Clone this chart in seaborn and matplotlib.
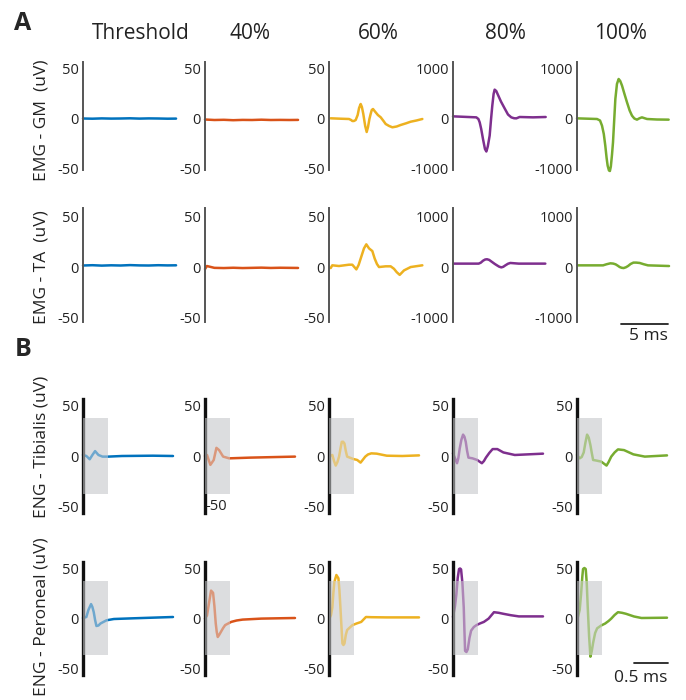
import matplotlib
matplotlib.use("Agg")
import matplotlib.pyplot as plt
import seaborn as sns
from matplotlib.patches import Rectangle

# -----------------------------------
# DATA
# -----------------------------------

columns = ["Threshold", "40%", "60%", "80%", "100%"]
colors = ["#0072BD", "#D95319", "#EDB120", "#7E2F8E", "#77AC30"]

row_labels = ["EMG - GM  (uV)", "EMG - TA  (uV)",
              "ENG - Tibialis (uV)", "ENG - Peroneal (uV)"]

# EMG - GM, time in ms, amplitude in uV
gm_t = [
    [0, 1, 2, 3, 4, 5, 6, 7, 8, 9, 9.9],
    [0, 1, 2, 3, 4, 5, 6, 7, 8, 9, 9.9],
    [0.18, 1.2, 2.13, 2.35, 2.48, 2.65, 2.84, 3.05, 3.2, 3.37, 3.5, 3.65,
     3.85, 4.01, 4.15, 4.3, 4.43, 4.55, 4.68, 4.96, 5.2, 5.5, 5.8, 6.03,
     6.4, 6.74, 7.2, 7.62, 8.2, 8.69, 9.3, 9.93],
    [0, 2.48, 2.7, 2.84, 3.0, 3.19, 3.4, 3.55, 3.7, 3.9, 4.05, 4.18, 4.32,
     4.43, 4.6, 4.79, 5.1, 5.5, 5.85, 6.2, 6.5, 6.74, 7.09, 8.51, 9.86],
    [0, 2.13, 2.45, 2.66, 2.85, 3.01, 3.15, 3.26, 3.4, 3.5, 3.6, 3.72, 3.83,
     3.95, 4.08, 4.25, 4.43, 4.6, 4.79, 5.05, 5.32, 5.6, 5.85, 6.1, 6.38,
     6.65, 6.91, 7.2, 7.45, 8.5, 9.75],
]
gm_v = [
    [0.5, 0.3, 0.6, 0.4, 0.5, 0.7, 0.4, 0.6, 0.5, 0.3, 0.4],
    [-0.5, -1, -0.8, -1.2, -0.9, -1, -0.7, -1, -0.9, -1, -0.9],
    [0.7, 0.3, 0, -1, -2, -2, -1, 4, 11, 15, 12, 5, -7, -13, -8, 0, 5, 9,
     10, 6.7, 4, 1.7, -2, -5, -7, -8.3, -7.5, -6, -4.3, -2.7, -1.5, 0],
    [53, 33, 0, -67, -200, -400, -600, -650, -550, -333, 0, 267, 500, 587,
     560, 480, 350, 210, 90, 33, 15, 13, 40, 33, 40],
    [13, 0, -30, -133, -300, -533, -780, -933, -1030, -1040, -950, -720,
     -467, -50, 400, 700, 800, 760, 667, 500, 333, 170, 67, 10, -13, 15,
     33, 15, 0, -10, -13],
]

# EMG - TA
ta_t = [
    [0, 1, 2, 3, 4, 5, 6, 7, 8, 9, 9.9],
    [0, 0.2, 1, 2, 3, 4, 5, 6, 7, 8, 9, 9.9],
    [0.18, 0.35, 1.06, 2.13, 2.48, 2.91, 3.15, 3.37, 3.72, 3.97, 4.26,
     4.61, 4.86, 5.1, 5.32, 6.03, 6.56, 6.91, 7.2, 7.52, 7.98, 8.69, 9.93],
    [0.07, 2.73, 2.95, 3.2, 3.42, 3.62, 3.85, 4.15, 4.45, 4.68, 4.9, 5.14,
     5.35, 5.57, 5.85, 6.1, 6.99, 9.82],
    [0.1, 2.77, 3.15, 3.55, 3.85, 4.11, 4.35, 4.54, 4.75, 4.96, 5.2, 5.43,
     5.7, 6.0, 6.3, 6.67, 7.1, 7.55, 8.62, 9.79],
]
ta_v = [
    [1.5, 1.8, 1.4, 1.7, 1.5, 1.9, 1.6, 1.5, 1.8, 1.6, 1.7],
    [-2, 1, -0.8, -1, -0.7, -1, -0.8, -0.6, -0.9, -0.7, -0.8, -0.9],
    [-1, 1.7, 1, 2.3, 2.3, -2.3, 2, 8.3, 18.3, 22.3, 18.3, 15.7, 8.3, 3,
     0, 0.7, 0.7, -1.7, -5, -7.7, -3.3, 0, 1.7],
    [67, 67, 85, 125, 148, 153, 140, 100, 60, 33, 8, -7, 5, 33, 65, 80, 67,
     67],
    [33, 33, 55, 73, 68, 53, 25, 0, -15, -20, -5, 20, 60, 87, 87, 80, 55,
     33, 27, 20],
]

# ENG - Tibialis
tib_t = [
    [0, 0.05, 0.10, 0.14, 0.18, 0.23, 0.29, 0.38, 0.58, 1.04, 1.34],
    [0, 0.03, 0.08, 0.13, 0.17, 0.21, 0.27, 0.36, 0.67, 1.34],
    [0.01, 0.05, 0.075, 0.10, 0.125, 0.15, 0.17, 0.19, 0.21, 0.23, 0.25,
     0.27, 0.36, 0.42, 0.47, 0.50, 0.54, 0.58, 0.63, 0.71, 0.86, 1.09, 1.34],
    [0, 0.06, 0.08, 0.10, 0.125, 0.15, 0.17, 0.19, 0.21, 0.23, 0.29, 0.36,
     0.43, 0.46, 0.49, 0.54, 0.59, 0.66, 0.75, 0.92, 1.34],
    [0, 0.04, 0.07, 0.10, 0.125, 0.15, 0.175, 0.20, 0.22, 0.24, 0.29, 0.36,
     0.44, 0.47, 0.51, 0.56, 0.61, 0.70, 0.84, 1.01, 1.34],
]
tib_v = [
    [1, 0, -3.2, 1, 4.8, 1, -0.6, -0.6, 0, 0.3, 0],
    [0, 1, -8.7, -3.9, 8, 5.8, -0.6, -2.3, -1.6, -0.6],
    [0, 1, -5, -9.4, -6, -0.6, 7, 13.9, 14, 12.3, 5, -0.6, -2.9, -3.9,
     -6.5, -4, -0.6, 1.5, 2.6, 2.3, 0.3, 0, 0.6],
    [2.6, -7.1, -2, 7.4, 16, 21, 19, 13.9, 5, -1.6, -2.3, -3.9, -7.1, -5,
     -1.6, 3, 6.8, 6.8, 3.5, 1, 2.3],
    [1, -2.3, -1, 3.5, 13, 21, 18, 10.6, 3, -3.9, -4.5, -5.5, -9.4, -6,
     -0.6, 3.5, 6.5, 5.8, 1.6, -0.6, 0.6],
]

# ENG - Peroneal
per_t = [
    [0, 0.05, 0.08, 0.12, 0.14, 0.16, 0.18, 0.2, 0.23, 0.26, 0.35, 0.46,
     0.75, 1.34],
    [0, 0.03, 0.06, 0.09, 0.12, 0.14, 0.16, 0.175, 0.19, 0.21, 0.24, 0.27,
     0.30, 0.39, 0.47, 0.56, 0.84, 1.34],
    [0.01, 0.03, 0.05, 0.065, 0.08, 0.11, 0.14, 0.155, 0.17, 0.185, 0.2,
     0.215, 0.23, 0.25, 0.27, 0.31, 0.35, 0.41, 0.48, 0.55, 0.63, 0.86,
     1.34],
    [0, 0.03, 0.05, 0.07, 0.09, 0.105, 0.12, 0.14, 0.16, 0.17, 0.18, 0.2,
     0.22, 0.245, 0.27, 0.31, 0.35, 0.40, 0.46, 0.53, 0.61, 0.68, 0.75,
     0.86, 0.98, 1.34],
    [0.01, 0.04, 0.06, 0.08, 0.09, 0.11, 0.13, 0.145, 0.16, 0.18, 0.20,
     0.22, 0.24, 0.27, 0.30, 0.36, 0.42, 0.47, 0.51, 0.56, 0.61, 0.67, 0.73,
     0.85, 0.96, 1.34],
]
per_v = [
    [0, 1, 8, 13.9, 11, 5.8, -2, -8, -7.5, -5.5, -2.3, -1, -0.3, 1],
    [-0.6, 2.6, 15, 27.4, 25.2, 12, -5.5, -14, -19, -17, -13.5, -10, -7.1,
     -3.9, -2.5, -1.6, -0.6, 0],
    [0, 3, 10.6, 25, 36, 43, 39.7, 28, 10.6, -8, -25.5, -27, -25.5, -17,
     -12, -9.5, -7.1, -5.5, -3.9, 1, 0.8, 0.6, 0.6],
    [1, 12, 23.5, 40, 49, 49.5, 48.7, 35, 10.6, -12, -32.9, -34, -31.3,
     -20, -12.6, -9, -7.1, -5.5, -3.9, -0.6, 5.8, 5.2, 4.2, 2.8, 1.6, 1.6],
    [0, 8, 23.5, 42, 49, 50, 49, 35, 10.6, -18, -38.7, -33, -24.8, -15,
     -10.3, -7.5, -5.5, -3, -0.6, 3, 5.8, 5.2, 4.2, 1.5, 0, 0.3],
]

# stimulation artefact window (ms) and its height (uV)
artefact_end = 0.37
artefact_half = 37


W, H = 686, 700
col_left = [83, 205, 329, 453, 577]


def add_axes_px(fig, left, top, width, bottom):
    return fig.add_axes([left / W, 1 - bottom / H, width / W,
                         (bottom - top) / H])


def style_axis(ax, ticks, spine_color, spine_width):
    for s in ["top", "right", "bottom"]:
        ax.spines[s].set_visible(False)
    ax.spines["left"].set_color(spine_color)
    ax.spines["left"].set_linewidth(spine_width)
    ax.set_xticks([])
    ax.set_yticks(ticks)
    ax.set_yticklabels([str(t) for t in ticks])
    ax.tick_params(axis="y", length=0, pad=3, labelsize=10.5,
                   labelcolor="#222222")
    ax.set_xlabel("")
    ax.set_ylabel("")
    ax.patch.set_alpha(0)


def draw_trace(ax, t, v, color):
    sns.lineplot(x=t, y=v, ax=ax, color=color, linewidth=1.8,
                 estimator=None, sort=False)
    for ln in ax.lines:
        ln.set_clip_on(False)
        ln.set_solid_joinstyle("round")
        ln.set_solid_capstyle("round")
        ln.set_zorder(2)


def main():

    sns.set_theme(style="white")
    plt.rcParams["font.family"] = ["Open Sans", "DejaVu Sans"]
    plt.rcParams["axes.unicode_minus"] = False

    fig = plt.figure(figsize=(W / 100, H / 100), dpi=100)

    # ---------------- PANEL A : EMG ----------------

    emg_rows = [(gm_t, gm_v, 62, 170, (-51, 57)),
                (ta_t, ta_v, 208, 322, (-54, 58))]

    emg_axes = []
    for t_list, v_list, top, bottom, lim in emg_rows:
        row_axes = []
        for c in range(5):
            ax = add_axes_px(fig, col_left[c], top, 94, bottom)
            scale = 20 if c >= 3 else 1
            draw_trace(ax, t_list[c], v_list[c], colors[c])
            ax.set_xlim(0, 10)
            ax.set_ylim(lim[0] * scale, lim[1] * scale)
            style_axis(ax, [-50 * scale, 0, 50 * scale] if scale == 1
                       else [-1000, 0, 1000], "#555555", 1.4)
            row_axes.append(ax)
        emg_axes.append(row_axes)

    # ---------------- PANEL B : ENG ----------------

    eng_rows = [(tib_t, tib_v, 399, 513, (-56, 56)),
                (per_t, per_v, 562, 675, (-57, 56))]

    eng_axes = []
    for t_list, v_list, top, bottom, lim in eng_rows:
        row_axes = []
        for c in range(5):
            ax = add_axes_px(fig, col_left[c], top, 90, bottom)
            ax.add_patch(Rectangle((0, -artefact_half), artefact_end,
                                   2 * artefact_half, facecolor="#dcdddf",
                                   edgecolor="none", zorder=0))
            draw_trace(ax, t_list[c], v_list[c], colors[c])
            # fade the trace inside the artefact window
            ax.add_patch(Rectangle((0, -artefact_half), artefact_end,
                                   2 * artefact_half, facecolor="#dcdddf",
                                   edgecolor="none", alpha=0.5, zorder=3))
            ax.set_xlim(0, 1.34)
            ax.set_ylim(*lim)
            style_axis(ax, [-50, 0, 50], "#111111", 2.4)
            row_axes.append(ax)
        eng_axes.append(row_axes)

    # odd -50 label drawn right of the axis in the Tibialis 40% panel
    ax = eng_axes[0][1]
    ax.set_yticks([0, 50])
    ax.set_yticklabels(["0", "50"])
    ax.text(0.01, -50, "-50", fontsize=10.5, color="#222222",
            ha="left", va="center")

    # ---------------- TEXT ----------------

    header_x = [141, 250, 378, 505, 620]
    for c in range(5):
        fig.text(header_x[c] / W, 1 - 39 / H, columns[c], fontsize=15,
                 ha="center", va="baseline", color="#222222")

    fig.text(23 / W, 1 - 24 / H, "A", fontsize=18, fontweight="bold",
             ha="center", va="center")
    fig.text(23 / W, 1 - 349 / H, "B", fontsize=18, fontweight="bold",
             ha="center", va="center")

    label_y = [120, 267, 447, 617]
    for r in range(4):
        fig.text(42 / W, 1 - label_y[r] / H, row_labels[r], fontsize=12.5,
                 rotation=90, ha="center", va="center", color="#222222")

    # ---------------- SCALE BARS ----------------

    ax = emg_axes[1][4]
    ax.plot([4.7, 9.7], [-1120, -1120], color="#222222", linewidth=1.3,
            clip_on=False)
    ax.text(9.7, -1200, "5 ms", fontsize=12.5, ha="right", va="top",
            color="#222222")

    ax = eng_axes[1][4]
    ax.plot([0.85, 1.35], [-45, -45], color="#222222", linewidth=1.3,
            clip_on=False)
    ax.text(1.35, -52, "0.5 ms", fontsize=12.5, ha="right", va="top",
            color="#222222")

    fig.savefig("out.png", dpi=100)


if __name__ == "__main__":
    main()
